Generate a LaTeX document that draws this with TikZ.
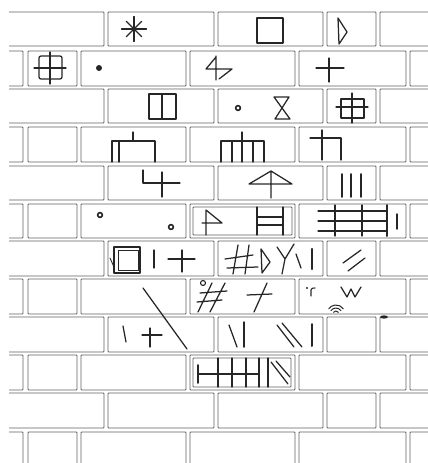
\documentclass[tikz,border=0pt]{standalone}
\begin{document}
\begin{tikzpicture}[x=1pt,y=-1pt,
  brick/.style={draw=black!62, line width=0.95pt, rounded corners=0.8pt},
  sym/.style={draw=black!85, line width=1.25pt, line cap=round, line join=round},
  thk/.style={sym, line width=2pt}]
\useasboundingbox (0,0) rectangle (428,463);
\clip (0,0) rectangle (428,463);
% odd rows
\foreach \t/\b in {12/46,89/123,166/200,241/276,317/352,393/428}{
  \draw[brick] (9,\t) -- (104,\t) -- (104,\b) -- (9,\b);
  \draw[brick] (108,\t) rectangle (214,\b);
  \draw[brick] (218,\t) rectangle (323,\b);
  \draw[brick] (327,\t) rectangle (376,\b);
  \draw[brick] (430,\t) -- (380,\t) -- (380,\b) -- (430,\b);
}
% even rows
\foreach \t/\b in {51/86,127/162,204/238,279/314,355/390,432/470}{
  \draw[brick] (9,\t) -- (23,\t) -- (23,\b) -- (9,\b);
  \draw[brick] (28,\t) rectangle (77,\b);
  \draw[brick] (81,\t) rectangle (186,\b);
  \draw[brick] (190,\t) rectangle (295,\b);
  \draw[brick] (299,\t) rectangle (406,\b);
  \draw[brick] (430,\t) -- (410,\t) -- (410,\b) -- (430,\b);
}
% ---- row 1
\foreach \a in {0,90,180,270} \draw[sym] (134,29) -- ++(\a:12.5pt);
\foreach \a in {45,135,225,315} \draw[sym] (134,29) -- ++(\a:11pt);
\fill[black!85] (134,29) circle (2.5pt);
\draw[sym] (257,18) rectangle (283,43);
\draw[sym] (338,18) -- (347,32) -- (339,44) -- cycle;
% ---- row 2
\draw[sym, rounded corners=2pt] (39,56) rectangle (62,79);
\draw[sym] (34,68) -- (66,68) (50,52) -- (50,84);
\fill[black!85] (99,68) circle (3pt);
\draw[sym] (216,56) -- (216,80) (216,57) -- (206,69) -- (232,69) -- (219,79);
\draw[sym] (316,68) -- (344,68) (329,58) -- (329,82);
% ---- row 3
\draw[sym] (149,94) rectangle (176,119) (162,94) -- (162,119);
\draw[sym, line width=1.6pt] (238,108) circle (2.4pt);
\draw[sym] (274,97) -- (289,97) -- (275,119) -- (290,119) -- cycle;
\draw[sym] (341,99) rectangle (364,118);
\draw[sym] (336,107) -- (368,107) (352,93) -- (352,123);
% ---- row 4
\draw[sym] (112,162) -- (112,141) -- (155,141) -- (155,162) (119,141) -- (119,162) (133,132) -- (133,141);
\draw[sym] (221,162) -- (221,141) -- (264,141) -- (264,162)
  (232,141) -- (232,162) (253,141) -- (253,162) (242,132) -- (242,162);
\draw[sym] (310,138) -- (341,138) -- (341,160) (322,130) -- (322,160);
% ---- row 5
\draw[sym] (143,170) -- (143,183) -- (180,183) (162,172) -- (162,197);
\draw[sym] (249,184) -- (271,171) -- (292,184) -- cycle (271,171) -- (271,198);
\draw[thk, line width=1.7pt] (342,174) -- (342,197) (351,174) -- (351,197) (361,174) -- (361,197);
% ---- row 6
\draw[sym, line width=1.6pt] (100,215) circle (2.4pt);
\draw[sym, line width=1.6pt] (171,227) circle (2.4pt);
\draw[brick] (193,207) rectangle (292,235);
\draw[sym] (206,210) -- (206,235) (206,210) -- (222,223) -- (202,223);
\draw[sym] (257,207) -- (257,235) (283,207) -- (283,235)
  (257,217) -- (283,217) (257,225) -- (283,225);
\draw[sym] (318,211) -- (386,211) (318,221) -- (386,221) (318,231) -- (386,231)
  (335,205) -- (335,236) (362,205) -- (362,236);
\draw[thk] (387,205) -- (387,236);
\draw[sym, line width=1.5pt] (397,214) -- (397,229);
% ---- row 7
\draw[sym, line width=1.4pt] (114,247) rectangle (140,273);
\draw[sym, line width=0.9pt] (118,250) rectangle (138,270);
\draw[sym, line width=0.9pt] (110,258) -- (114,267);
\draw[sym] (154,250) -- (154,268);
\draw[sym] (168,259) -- (195,259) (182,250) -- (182,272);
\draw[sym] (238,245) -- (233,274) (249,245) -- (245,274) (225,259) -- (253,255) (227,268) -- (258,267);
\draw[sym] (261,249) -- (270,262) -- (262,273) -- cycle;
\draw[sym] (277,247) -- (285,259) (294,244) -- (285,259) -- (282,274);
\draw[sym] (296,254) -- (301,268);
\draw[thk, line width=2.6pt] (312,249) -- (312,269);
\draw[sym] (343,263) -- (361,250) (348,271) -- (365,258);
% ---- row 8
\draw[sym] (143,288) -- (187,349);
\draw[sym, line width=1.1pt] (203,283) circle (2.5pt);
\draw[sym] (212,283) -- (198,312) (225,283) -- (210,312) (200,293) -- (227,291) (197,302) -- (222,300);
\draw[sym] (247,295) -- (272,294) (267,283) -- (254,312);
\fill[black!85] (307,288) circle (1.2pt);
\draw[sym, line width=1.1pt] (311,296) -- (311,290) .. controls (312,288) .. (315,288);
\draw[sym] (341,287) -- (347,297) -- (351,289) -- (355,297) -- (361,287);
\foreach \r in {3,6,9} \draw[sym, line width=1pt] ([shift={(35:\r pt)}]336,314) arc[start angle=35, end angle=145, radius=\r pt];
\fill[black!85] (384,317) ellipse (4pt and 1.6pt);
% ---- row 9
\draw[sym] (123,326) -- (126,342);
\draw[sym] (142,335) -- (162,335) (150,328) -- (150,347);
\draw[sym] (229,325) -- (237,347);
\draw[thk, line width=1.5pt] (244,322) -- (244,347);
\draw[sym] (277,325) -- (294,347) (282,323) -- (302,347);
\draw[thk, line width=2pt] (312,324) -- (312,346);
% ---- row 10
\draw[brick] (193,358) rectangle (291,387);
\draw[thk, line width=1.9pt] (198,365) -- (198,383);
\draw[sym] (198,374) -- (259,374);
\foreach \xx in {218,232,246,259,268} \draw[sym] (\xx,358) -- (\xx,387);
\draw[sym] (271,362) -- (288,384) (276,361) -- (290,377);
\end{tikzpicture}
\end{document}
